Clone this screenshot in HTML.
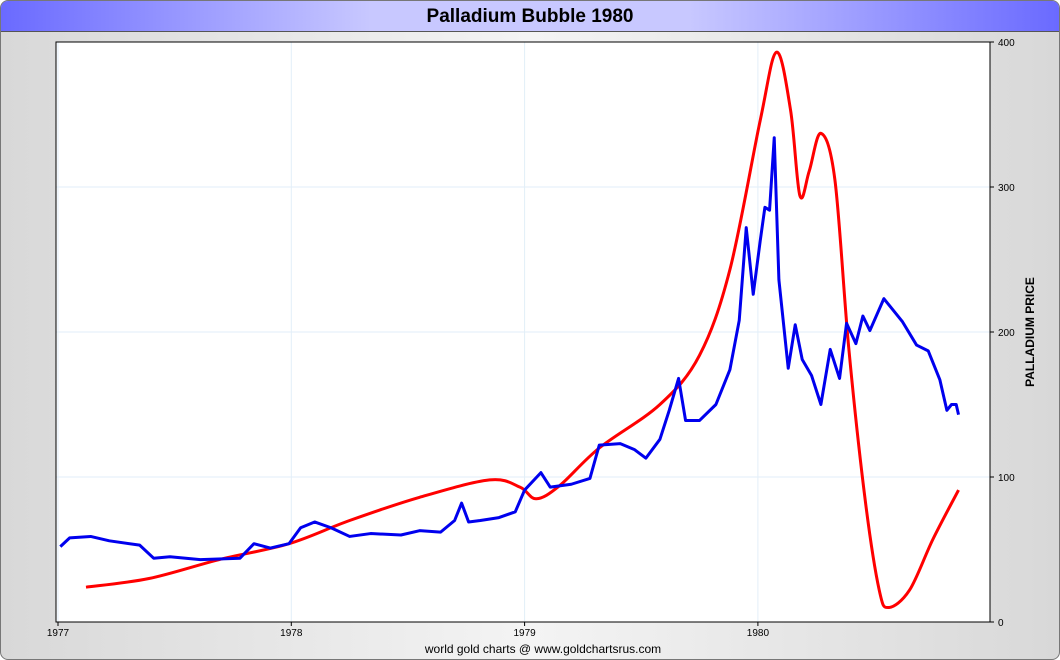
<!DOCTYPE html>
<html><head><meta charset="utf-8"><style>
body{margin:0;width:1060px;height:660px;overflow:hidden;font-family:"Liberation Sans",sans-serif}
#frame{position:absolute;left:0;top:0;width:1058px;height:658px;border:1px solid #777;border-radius:8px;background:linear-gradient(90deg,#d8d8d8,#f4f4f4 50%,#d8d8d8);overflow:hidden}
#titlebar{position:absolute;left:0;top:0;width:1058px;height:30px;background:linear-gradient(90deg,#6a6aff,#c8c8ff 35%,#c8c8ff 65%,#6a6aff);border-bottom:1px solid #555;text-align:center;font-weight:bold;font-size:19px;line-height:32px;color:#000}
</style></head><body>
<div id="frame">
<div id="titlebar">Palladium Bubble 1980</div>
</div>
<svg id="svg" width="1060" height="660" style="position:absolute;left:0;top:0"></svg>
<script>
const years=[1977,1978,1979,1980];
const yTicks=[0,100,200,300,400];
const blueT=[1977.01,1977.05,1977.14,1977.22,1977.35,1977.41,1977.48,1977.61,1977.78,1977.84,1977.91,1977.99,1978.04,1978.10,1978.17,1978.25,1978.34,1978.47,1978.55,1978.64,1978.70,1978.73,1978.76,1978.81,1978.89,1978.96,1979.00,1979.07,1979.11,1979.20,1979.28,1979.32,1979.41,1979.47,1979.52,1979.58,1979.62,1979.66,1979.69,1979.75,1979.82,1979.88,1979.92,1979.95,1979.98,1980.01,1980.03,1980.05,1980.07,1980.09,1980.13,1980.16,1980.19,1980.23,1980.27,1980.31,1980.35,1980.38,1980.42,1980.45,1980.48,1980.54,1980.62,1980.68,1980.73,1980.78,1980.81,1980.83,1980.85,1980.86];
const blueV=[52,58,59,56,53,44,45,43,44,54,51,54,65,69,65,59,61,60,63,62,70,82,69,70,72,76,91,103,93,95,99,122,123,119,113,126,146,168,139,139,150,174,208,272,226,263,286,284,334,236,175,205,181,170,150,188,168,206,192,211,201,223,207,191,187,167,146,150,150,143];
const redT=[1977.12,1977.39,1977.69,1977.99,1978.25,1978.55,1978.85,1978.98,1979.05,1979.15,1979.32,1979.58,1979.75,1979.88,1980.01,1980.08,1980.14,1980.18,1980.22,1980.27,1980.33,1980.39,1980.46,1980.52,1980.56,1980.65,1980.75,1980.86];
const redV=[24,30,43,54,70,86,98,93,85,94,120,150,184,243,346,393,353,294,311,337,305,188,84,22,10,22,57,91];
const L=56,R=990,T=42,B=622;
const xs=t=>58+(t-1977)*233.3;
const ys=v=>B-(v/400)*(B-T);
const svg=document.getElementById('svg');const NS='http://www.w3.org/2000/svg';
function mk(tag,attrs){const e=document.createElementNS(NS,tag);for(const k in attrs)e.setAttribute(k,attrs[k]);svg.appendChild(e);return e;}
const bg=mk('rect',{x:L,y:T,width:R-L,height:B-T,fill:'#fff'});


yTicks.forEach(v=>{
 const g=mk('line',{x1:L,x2:R,y1:ys(v),y2:ys(v),stroke:'#e2eef8','stroke-width':1});
 
 
 const tk=mk('line',{x1:R,x2:R+4,y1:ys(v),y2:ys(v),stroke:'#000'});
 
 
 const tx=mk('text',{x:R+8,y:ys(v)+4,'font-size':10,'font-family':'Liberation Sans, sans-serif'});tx.textContent=v;
 
 
});
years.forEach(y=>{
 const g=mk('line',{x1:xs(y),x2:xs(y),y1:T,y2:B,stroke:'#e2eef8'});
 
 
 const tk=mk('line',{x1:xs(y),x2:xs(y),y1:B,y2:B+4,stroke:'#000'});
 
 
 const tx=mk('text',{x:xs(y),y:B+14,'font-size':10,'text-anchor':'middle','font-family':'Liberation Sans, sans-serif'});tx.textContent=y;
 
 
});
const border=mk('rect',{x:L,y:T,width:R-L,height:B-T,fill:'none',stroke:'#000','stroke-width':1});


// red smooth
const rp=redT.map((t,i)=>[xs(t),ys(redV[i])]);
let d='M'+rp[0][0]+','+rp[0][1];
for(let i=0;i<rp.length-1;i++){const p0=rp[Math.max(0,i-1)],p1=rp[i],p2=rp[i+1],p3=rp[Math.min(rp.length-1,i+2)];
 d+=' C'+(p1[0]+(p2[0]-p0[0])/6)+','+(p1[1]+(p2[1]-p0[1])/6)+' '+(p2[0]-(p3[0]-p1[0])/6)+','+(p2[1]-(p3[1]-p1[1])/6)+' '+p2[0]+','+p2[1];}
const red=mk('path',{d:d,fill:'none',stroke:'#ff0000','stroke-width':3});


const blue=mk('polyline',{points:blueT.map((t,i)=>xs(t)+','+ys(blueV[i])).join(' '),fill:'none',stroke:'#0000ee','stroke-width':3,'stroke-linejoin':'round'});


const yt=mk('text',{x:1034,y:332,'font-size':12,'font-weight':'bold','text-anchor':'middle',transform:'rotate(-90 1034 332)','font-family':'Liberation Sans, sans-serif'});yt.textContent='PALLADIUM PRICE';


const ft=mk('text',{x:543,y:653,'font-size':12,'text-anchor':'middle','font-family':'Liberation Sans, sans-serif'});ft.textContent='world gold charts @ www.goldchartsrus.com';


</script>
</body></html>
